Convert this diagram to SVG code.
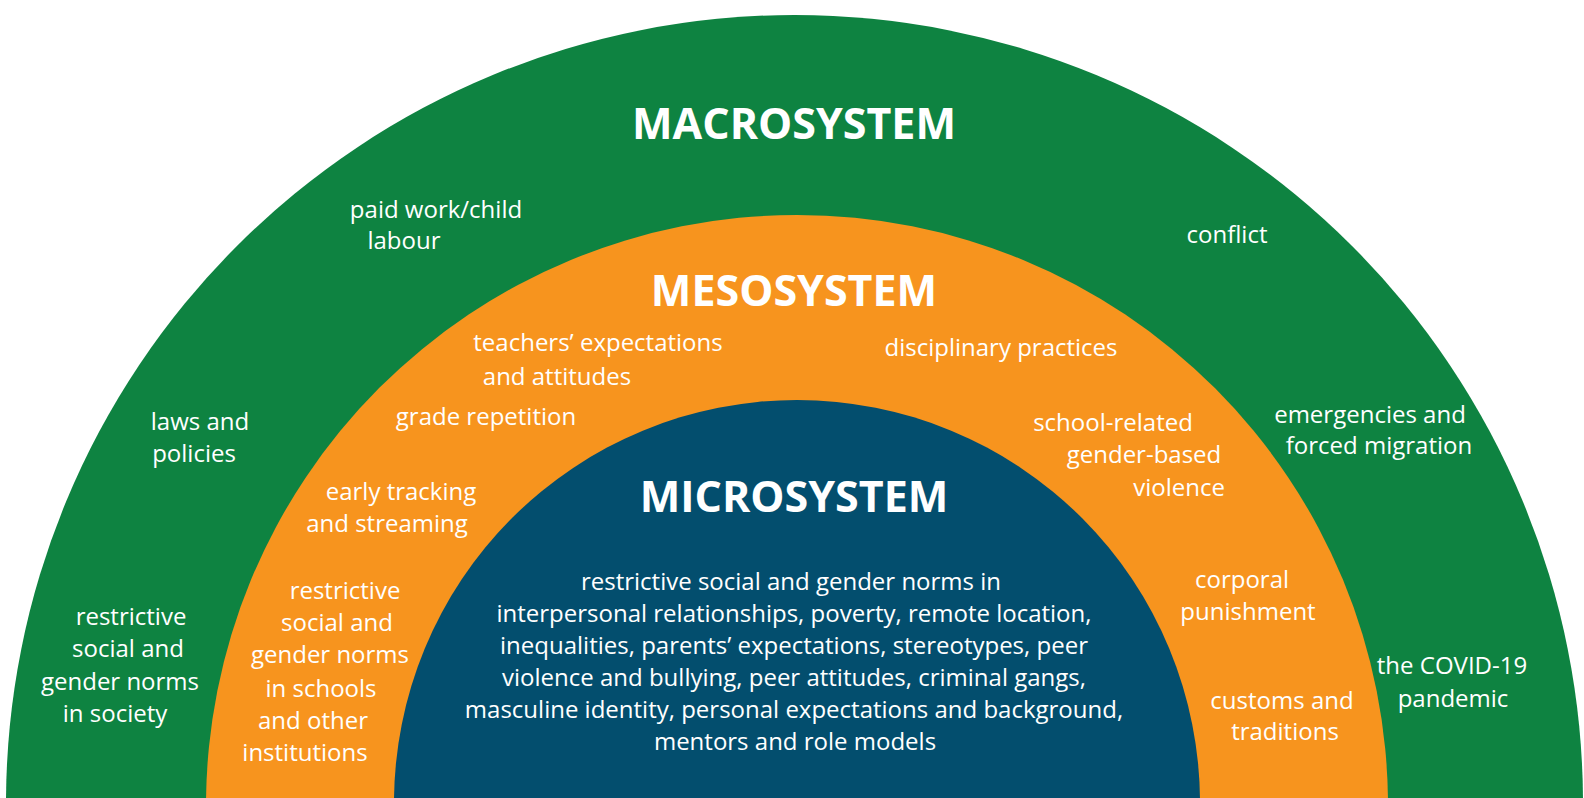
<svg xmlns="http://www.w3.org/2000/svg" width="1584" height="798" viewBox="0 0 1584 798">
<style>
.t{font-family:"Open Sans","Noto Sans","DejaVu Sans",sans-serif;fill:#ffffff;text-anchor:middle}
.h{font-size:43px;font-weight:700}
.b{font-size:24px}
</style>
<rect width="1584" height="798" fill="#ffffff"/>
<g id="macrosystem">
<circle cx="794.5" cy="803.5" r="788.5" fill="#0e8341"/>
<text class="t h" x="794" y="139">MACROSYSTEM</text>
<text class="t b" x="436" y="218">paid work/child</text>
<text class="t b" x="404" y="249">labour</text>
<text class="t b" x="1227" y="243">conflict</text>
<text class="t b" x="200" y="430">laws and</text>
<text class="t b" x="194" y="462">policies</text>
<text class="t b" x="1370" y="423">emergencies and</text>
<text class="t b" x="1379" y="454">forced migration</text>
<text class="t b" x="131" y="625">restrictive</text>
<text class="t b" x="128" y="657">social and</text>
<text class="t b" x="120" y="690">gender norms</text>
<text class="t b" x="115" y="722">in society</text>
<text class="t b" x="1452" y="674">the COVID-19</text>
<text class="t b" x="1453" y="707">pandemic</text>
</g>
<g id="mesosystem">
<circle cx="797" cy="806" r="591" fill="#f7941e"/>
<text class="t h" x="794" y="306">MESOSYSTEM</text>
<text class="t b" x="598" y="351">teachers’ expectations</text>
<text class="t b" x="557" y="385">and attitudes</text>
<text class="t b" x="1001" y="356">disciplinary practices</text>
<text class="t b" x="486" y="425">grade repetition</text>
<text class="t b" x="1113" y="431">school-related</text>
<text class="t b" x="1144" y="463">gender-based</text>
<text class="t b" x="1179" y="496">violence</text>
<text class="t b" x="401" y="500">early tracking</text>
<text class="t b" x="387" y="532">and streaming</text>
<text class="t b" x="345" y="599">restrictive</text>
<text class="t b" x="337" y="631">social and</text>
<text class="t b" x="330" y="663">gender norms</text>
<text class="t b" x="321" y="697">in schools</text>
<text class="t b" x="313" y="729">and other</text>
<text class="t b" x="305" y="761">institutions</text>
<text class="t b" x="1242" y="588">corporal</text>
<text class="t b" x="1248" y="620">punishment</text>
<text class="t b" x="1282" y="709">customs and</text>
<text class="t b" x="1285" y="740">traditions</text>
</g>
<g id="microsystem">
<circle cx="797" cy="803" r="403" fill="#034e6e"/>
<text class="t h" x="794" y="512">MICROSYSTEM</text>
<text class="t b" x="791" y="590">restrictive social and gender norms in</text>
<text class="t b" x="794" y="622">interpersonal relationships, poverty, remote location,</text>
<text class="t b" x="794" y="654">inequalities, parents’ expectations, stereotypes, peer</text>
<text class="t b" x="794" y="686">violence and bullying, peer attitudes, criminal gangs,</text>
<text class="t b" x="794" y="718">masculine identity, personal expectations and background,</text>
<text class="t b" x="795" y="750">mentors and role models</text>
</g>
<g id="connectors"/>
</svg>
